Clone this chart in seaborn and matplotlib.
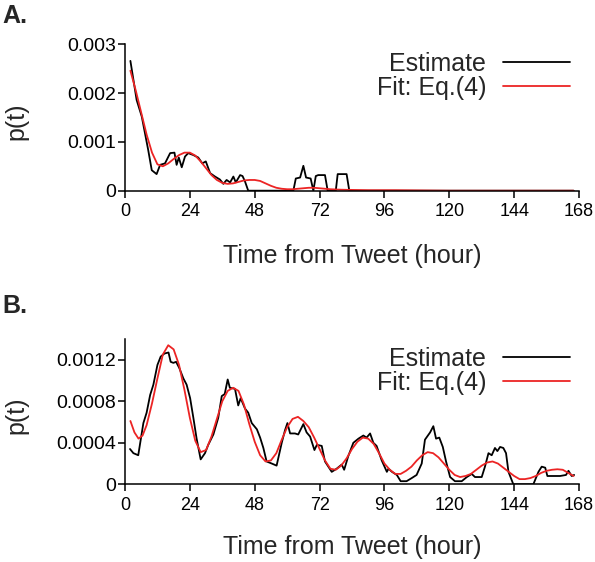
import numpy as np
import pandas as pd
import matplotlib
matplotlib.use("Agg")
import matplotlib.pyplot as plt
import seaborn as sns

# ---------------- data (p(t) values in units of 1e-3) ----------------
a_est_t = [2, 4.3, 6.2, 8.6, 9.9, 11.7, 13, 14.8, 16.7, 18.3, 19.1, 19.9, 21, 22.2, 23.4,
           25.3, 27.1, 28.6, 29.9, 31.5, 33.3, 35.1, 36.4, 37.6, 38.9, 40.1, 41, 42.6,
           43.5, 44.4, 45.6, 62.3, 63.2, 64.8, 66, 67, 68.7, 69.7, 70.6, 71.5, 74, 75,
           78, 78.7, 82, 83, 166]
a_est_v = [2.66, 1.86, 1.52, 0.83, 0.42, 0.34, 0.53, 0.56, 0.77, 0.78, 0.53, 0.68, 0.48, 0.70, 0.77,
           0.73, 0.68, 0.56, 0.60, 0.36, 0.29, 0.23, 0.14, 0.22, 0.17, 0.29, 0.17, 0.32,
           0.30, 0.19, 0.0, 0.0, 0.25, 0.27, 0.51, 0.27, 0.25, 0.0, 0.30, 0.32, 0.32, 0.0,
           0.0, 0.34, 0.34, 0.0, 0.0]

a_fit_t = [2, 4, 6, 8, 10, 12, 14, 16, 18, 20, 22, 24, 26, 28, 30, 32, 34, 36, 38, 40, 42, 44,
           46, 48, 50, 52, 54, 56, 58, 60, 62, 64, 66, 68, 70, 72, 76, 80, 90, 100, 120, 140, 166]
a_fit_v = [2.46, 2.05, 1.60, 1.15, 0.78, 0.54, 0.50, 0.56, 0.65, 0.73, 0.78, 0.78, 0.72, 0.60,
           0.46, 0.32, 0.22, 0.16, 0.14, 0.15, 0.18, 0.21, 0.22, 0.22, 0.20, 0.15, 0.10, 0.06,
           0.04, 0.03, 0.03, 0.04, 0.05, 0.06, 0.06, 0.05, 0.03, 0.02, 0.01, 0.01, 0.0, 0.0, 0.0]

b_est_t = [1.85, 3.1, 4.9, 6.8, 8, 9.3, 10.5, 12, 13.2, 14.6, 16.1, 16.9, 17.9, 18.9, 20.1, 21.6,
           22.8, 24.1, 25.3, 26.5, 28, 29.6, 30.8, 32.7, 34.5, 35.8, 36.9, 38, 38.8, 40.7, 41.9,
           42.8, 44.4, 45.6, 46.9, 48.8, 50, 51.2, 52.4, 54.3, 56.1, 58, 59.2, 60.1, 61.1, 62.9,
           64.1, 66, 67.2, 68.5, 70.1, 71, 72.8, 74, 76.5, 78.3, 80.2, 81.1, 82.6, 84.5, 86.4,
           88.2, 89.4, 90.7, 91.9, 93.1, 95, 96.9, 97.5, 98.8, 100.6, 102, 104.2, 106.1, 107.9,
           109.8, 111, 112.9, 114.1, 115.1, 116.3, 117.6, 118.8, 120.3, 122.1, 124.6, 126.5,
           128.3, 129.5, 132, 133.2, 134.5, 135.7, 136.9, 137.8, 138.8, 140, 141, 141.9, 143.7,
           151.1, 153, 154.2, 155.5, 156.3, 158.5, 161, 163.2, 164.1, 165.3, 166.2]
b_est_v = [0.34, 0.30, 0.28, 0.59, 0.69, 0.86, 0.96, 1.15, 1.23, 1.26, 1.27, 1.18, 1.17, 1.18, 1.12, 1.02,
           0.96, 0.83, 0.64, 0.44, 0.24, 0.30, 0.38, 0.48, 0.64, 0.85, 0.87, 1.01, 0.93, 0.92, 0.76,
           0.83, 0.73, 0.69, 0.59, 0.53, 0.45, 0.35, 0.22, 0.20, 0.18, 0.40, 0.52, 0.59, 0.49, 0.49,
           0.48, 0.58, 0.50, 0.46, 0.33, 0.38, 0.37, 0.22, 0.12, 0.15, 0.19, 0.14, 0.27, 0.40, 0.44,
           0.47, 0.45, 0.49, 0.40, 0.37, 0.23, 0.12, 0.15, 0.12, 0.09, 0.03, 0.03, 0.06, 0.09,
           0.20, 0.43, 0.50, 0.56, 0.44, 0.45, 0.36, 0.22, 0.07, 0.03, 0.03, 0.07,
           0.10, 0.07, 0.07, 0.17, 0.30, 0.28, 0.35, 0.32, 0.36, 0.35, 0.30, 0.12, 0.0,
           0.0, 0.12, 0.17, 0.16, 0.08, 0.08, 0.08, 0.09, 0.13, 0.08, 0.09]

b_fit_t = [2, 3.5, 5, 6.5, 8, 10, 12, 14, 16, 18, 20, 22, 24, 26, 28, 30, 32, 34, 36, 38, 40, 42,
           44, 46, 48, 50, 52, 54, 56, 58, 60, 62, 64, 66, 68, 70, 72, 74, 76, 78, 80, 82, 84, 86,
           88, 90, 92, 94, 96, 98, 100, 102, 104, 106, 108, 110, 112, 114, 116, 118, 120, 122,
           124, 126, 128, 130, 132, 134, 136, 138, 140, 142, 144, 146, 148, 150, 152, 154, 156,
           158, 160, 162, 164, 166]
b_fit_v = [0.61, 0.50, 0.44, 0.47, 0.57, 0.78, 1.02, 1.25, 1.34, 1.30, 1.15, 0.91, 0.64, 0.42, 0.31,
           0.33, 0.46, 0.63, 0.80, 0.90, 0.93, 0.90, 0.77, 0.58, 0.41, 0.28, 0.22, 0.23, 0.30, 0.43,
           0.55, 0.63, 0.65, 0.61, 0.55, 0.45, 0.34, 0.23, 0.15, 0.14, 0.18, 0.25, 0.34, 0.41, 0.45,
           0.44, 0.39, 0.30, 0.20, 0.14, 0.10, 0.10, 0.13, 0.17, 0.23, 0.28, 0.31, 0.30, 0.26, 0.20,
           0.14, 0.09, 0.07, 0.08, 0.10, 0.14, 0.18, 0.21, 0.22, 0.20, 0.16, 0.12, 0.08, 0.05, 0.05,
           0.06, 0.08, 0.11, 0.13, 0.14, 0.145, 0.14, 0.11, 0.08]

x_ticks = [0, 24, 48, 72, 96, 120, 144, 168]
a_yticks = [0, 0.001, 0.002, 0.003]
a_ytick_labels = ["0", "0.001", "0.002", "0.003"]
b_yticks = [0, 0.0004, 0.0008, 0.0012]
b_ytick_labels = ["0", "0.0004", "0.0008", "0.0012"]

series_labels = ["Estimate", "Fit: Eq.(4)"]

# ---------------- style ----------------
sns.set_style("ticks")
plt.rcParams["font.family"] = ["Liberation Sans", "DejaVu Sans"]

W, H = 595, 562
fig = plt.figure(figsize=(W / 100, H / 100), dpi=100)

RED = "#ec2424"


def make_df(t, v, label):
    return pd.DataFrame({"t": t, "p": np.array(v) * 1e-3, "series": label})


panels = [
    dict(est=(a_est_t, a_est_v), fit=(a_fit_t, a_fit_v), ylim=0.003,
         yticks=a_yticks, ylabels=a_ytick_labels,
         rect=[125 / W, 1 - 190.7 / H, 454 / W, 146.4 / H],
         leg_y=1 - 75.8 / H, xlab_y=-0.364, letter="A.", letter_y=1 - 4 / H),
    dict(est=(b_est_t, b_est_v), fit=(b_fit_t, b_fit_v), ylim=0.0014,
         yticks=b_yticks, ylabels=b_ytick_labels,
         rect=[125 / W, 1 - 484.3 / H, 454 / W, 145.3 / H],
         leg_y=1 - 370.8 / H, xlab_y=-0.349, letter="B.", letter_y=1 - 294 / H),
]

for p in panels:
    ax = fig.add_axes(p["rect"])
    df = pd.concat([make_df(*p["est"], series_labels[0]),
                    make_df(*p["fit"], series_labels[1])], ignore_index=True)
    sns.lineplot(data=df, x="t", y="p", hue="series", palette=["black", RED],
                 ax=ax, linewidth=1.3, estimator=None, sort=False)
    ax.set_xlim(0, 168)
    ax.set_ylim(0, p["ylim"])
    ax.set_xticks(x_ticks)
    ax.set_xticklabels([str(v) for v in x_ticks])
    ax.set_yticks(p["yticks"])
    ax.set_yticklabels(p["ylabels"])
    ax.tick_params(axis="both", direction="out", length=5, width=1.1,
                   labelsize=13, colors="black")
    ax.tick_params(axis="x", pad=4)
    ax.tick_params(axis="y", pad=1.5, labelsize=14)
    sns.despine(ax=ax)
    for s in ["left", "bottom"]:
        ax.spines[s].set_linewidth(1.1)
        ax.spines[s].set_color("black")
    ax.set_xlabel("Time from Tweet (hour)", fontsize=18)
    ax.set_ylabel("p(t)", fontsize=18)
    ax.xaxis.set_label_coords(0.5, p["xlab_y"])
    ax.yaxis.set_label_coords(-0.2137, 0.473)
    ax.xaxis.label.set_va("top")
    handles, labels = ax.get_legend_handles_labels()
    ax.legend(handles, labels, loc="center right", bbox_to_anchor=(570 / W, p["leg_y"]),
              bbox_transform=fig.transFigure, frameon=False, markerfirst=False,
              fontsize=18, handlelength=2.7, handletextpad=0.65, labelspacing=0.0,
              borderpad=0, borderaxespad=0)
    fig.text(2 / W, p["letter_y"], p["letter"], fontsize=18, fontweight="bold",
             va="top", ha="left")

fig.savefig("out.png", dpi=100)
